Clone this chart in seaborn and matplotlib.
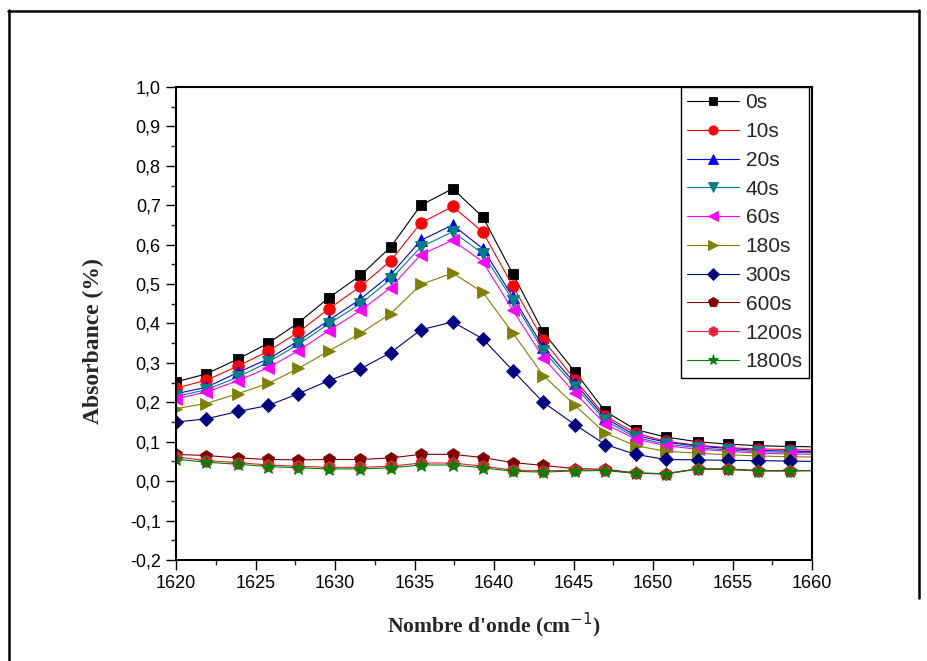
import matplotlib
matplotlib.use("Agg")
import matplotlib.pyplot as plt
from matplotlib.lines import Line2D
import seaborn as sns

# Wavenumber grid of the spectra (cm-1); the last point lies just beyond the axis
wavenumber = [1620.0, 1621.9, 1623.9, 1625.8, 1627.7, 1629.6, 1631.6, 1633.5,
              1635.4, 1637.4, 1639.3, 1641.2, 1643.1, 1645.1, 1647.0, 1648.9,
              1650.8, 1652.8, 1654.7, 1656.6, 1658.6, 1660.5]

abs_0s = [0.252, 0.272, 0.310, 0.350, 0.402, 0.465, 0.522, 0.594, 0.700, 0.742, 0.670,
          0.525, 0.378, 0.277, 0.177, 0.131, 0.112, 0.100, 0.094, 0.090, 0.088, 0.087]
abs_10s = [0.236, 0.256, 0.292, 0.330, 0.378, 0.437, 0.494, 0.559, 0.655, 0.697, 0.632,
           0.494, 0.358, 0.257, 0.165, 0.122, 0.101, 0.091, 0.085, 0.082, 0.080, 0.079]
abs_20s = [0.222, 0.238, 0.276, 0.310, 0.356, 0.408, 0.462, 0.524, 0.611, 0.650, 0.590,
           0.466, 0.340, 0.248, 0.160, 0.116, 0.099, 0.089, 0.083, 0.078, 0.076, 0.075]
abs_40s = [0.215, 0.232, 0.264, 0.302, 0.347, 0.399, 0.450, 0.512, 0.594, 0.633, 0.577,
           0.458, 0.331, 0.240, 0.154, 0.111, 0.094, 0.085, 0.079, 0.075, 0.073, 0.072]
abs_60s = [0.209, 0.226, 0.255, 0.288, 0.331, 0.382, 0.433, 0.491, 0.575, 0.611, 0.556,
           0.433, 0.313, 0.223, 0.145, 0.107, 0.090, 0.081, 0.076, 0.071, 0.069, 0.068]
abs_180s = [0.184, 0.197, 0.222, 0.248, 0.286, 0.330, 0.375, 0.425, 0.499, 0.528, 0.479,
            0.375, 0.268, 0.192, 0.122, 0.090, 0.076, 0.071, 0.067, 0.064, 0.062, 0.061]
abs_300s = [0.150, 0.158, 0.177, 0.192, 0.222, 0.255, 0.285, 0.326, 0.384, 0.404, 0.361,
            0.280, 0.200, 0.143, 0.093, 0.068, 0.055, 0.054, 0.053, 0.052, 0.051, 0.050]
abs_600s = [0.068, 0.065, 0.059, 0.055, 0.054, 0.055, 0.055, 0.059, 0.068, 0.068, 0.060,
            0.047, 0.040, 0.032, 0.030, 0.021, 0.019, 0.031, 0.031, 0.027, 0.027, 0.027]
abs_1200s = [0.062, 0.052, 0.047, 0.041, 0.038, 0.035, 0.035, 0.038, 0.046, 0.046, 0.038,
             0.028, 0.026, 0.028, 0.028, 0.020, 0.018, 0.031, 0.030, 0.026, 0.026, 0.027]
abs_1800s = [0.056, 0.048, 0.043, 0.037, 0.034, 0.031, 0.031, 0.034, 0.041, 0.041, 0.034,
             0.025, 0.023, 0.026, 0.027, 0.020, 0.019, 0.031, 0.030, 0.026, 0.026, 0.027]

labels = ["0s", "10s", "20s", "40s", "60s", "180s", "300s", "600s", "1200s", "1800s"]
series = [abs_0s, abs_10s, abs_20s, abs_40s, abs_60s, abs_180s, abs_300s,
          abs_600s, abs_1200s, abs_1800s]

y_ticks = [-0.2, -0.1, 0.0, 0.1, 0.2, 0.3, 0.4, 0.5, 0.6, 0.7, 0.8, 0.9, 1.0]
y_tick_labels = ["-0,2", "-0,1", "0,0", "0,1", "0,2", "0,3", "0,4", "0,5",
                 "0,6", "0,7", "0,8", "0,9", "1,0"]
x_ticks = [1620, 1625, 1630, 1635, 1640, 1645, 1650, 1655, 1660]

colors = ["#000000", "#FF0000", "#0000FF", "#008080", "#FF00FF",
          "#808000", "#000080", "#800000", "#F0203A", "#008000"]
markers = ["s", "o", "^", "v", "<", ">", "D", "p", "h", "*"]
msizes = [7.2, 8.3, 8.8, 8.8, 8.8, 8.8, 7.2, 8.8, 8.8, 10.0]

sns.set_style("ticks")
plt.rcParams["font.family"] = ["Liberation Sans", "DejaVu Sans"]

fig = plt.figure(figsize=(9.28, 6.61), dpi=100)
ax = fig.add_axes([176 / 928, 1 - 560 / 661, 636 / 928, 473 / 661])

for vals, lab, col, mk, ms in zip(series, labels, colors, markers, msizes):
    sns.lineplot(x=wavenumber, y=vals, ax=ax, color=col, marker=mk, markersize=ms,
                 markeredgecolor=col, markeredgewidth=0.6, linewidth=0.8,
                 label=lab, sort=False)

ax.set_xlim(1620, 1660)
ax.set_ylim(-0.2, 1.0)
ax.set_xticks(x_ticks)
ax.set_xticklabels([str(t) for t in x_ticks])
ax.set_xticks([1622.5 + 5 * k for k in range(8)], minor=True)
ax.set_yticks(y_ticks)
ax.set_yticklabels(y_tick_labels)
ax.set_yticks([-0.15 + 0.1 * k for k in range(12)], minor=True)

for side in ["left", "right", "top", "bottom"]:
    ax.spines[side].set_visible(True)
    ax.spines[side].set_linewidth(1.5)
    ax.spines[side].set_color("black")

ax.tick_params(axis="both", which="major", direction="out", length=7, width=1.0,
               labelsize=13, pad=4, colors="black")
ax.tick_params(axis="both", which="minor", direction="out", length=3.6, width=1.0)
ax.tick_params(top=False, right=False, which="both")

ax.set_xlabel("Nombre d'onde (cm$^{-1}$)", fontsize=15.5, fontweight="bold",
              family="Liberation Serif", labelpad=13)
ax.set_ylabel("Absorbance (%)", fontsize=17, fontweight="bold",
              family="Liberation Serif")
ax.yaxis.set_label_coords(-72 / 636, 0.463)

leg = ax.legend(loc="upper right", bbox_to_anchor=(1 - 3 / 636, 1.0), borderaxespad=0,
                fontsize=15, frameon=True, fancybox=False, framealpha=1,
                edgecolor="black", handlelength=2.5, handletextpad=0.3,
                labelspacing=0.47, borderpad=0.3, markerscale=0.8)
leg.get_frame().set_linewidth(1.0)

# Outer frame around the figure
frame_kw = dict(color="black", linewidth=1.8, transform=None)
fig.add_artist(Line2D([8.5, 8.5], [0, 661 - 10], **frame_kw))
fig.add_artist(Line2D([8, 919], [661 - 10.5, 661 - 10.5], **frame_kw))
fig.add_artist(Line2D([919, 919], [661 - 10, 661 - 598], **frame_kw))

fig.savefig("out.png", dpi=100, facecolor="white")
